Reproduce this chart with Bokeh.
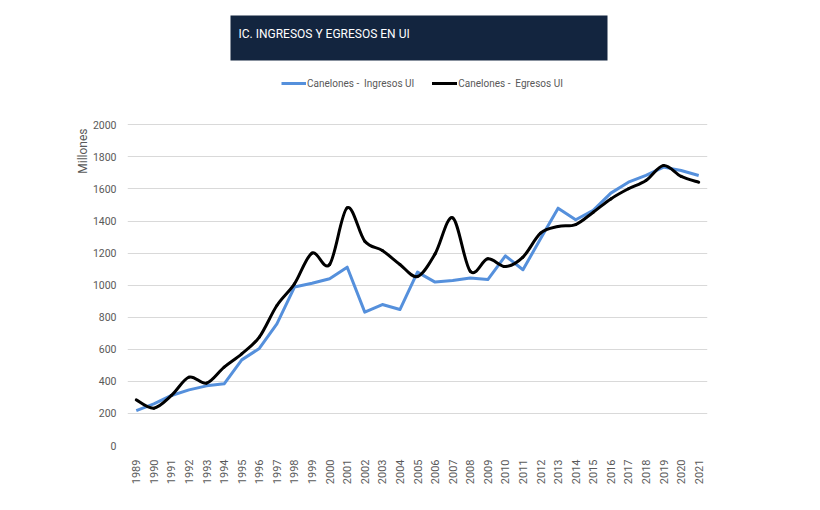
import math
from bokeh.plotting import figure
from bokeh.models import Label, BoxAnnotation, Legend, LegendItem, FixedTicker, Range1d, Title
from bokeh.embed import file_html
from bokeh.resources import INLINE

# ---------------- data ----------------
years = list(range(1989, 2022))
ingresos = [218, 260, 312, 347, 372, 385, 534, 605, 759, 988, 1012, 1040, 1112, 832, 879, 848, 1081,
            1019, 1029, 1044, 1035, 1183, 1096, 1289, 1480, 1408, 1466, 1574, 1642, 1684, 1736, 1715, 1684]
egresos = [285, 233, 312, 426, 389, 489, 572, 676, 873, 1008, 1200, 1129, 1482, 1274, 1216, 1129, 1054,
           1195, 1420, 1087, 1164, 1116, 1175, 1324, 1366, 1378, 1455, 1538, 1601, 1653, 1746, 1678, 1642]
series_names = ["Canelones -  Ingresos UI", "Canelones -  Egresos UI"]
y_ticks = [0, 200, 400, 600, 800, 1000, 1200, 1400, 1600, 1800, 2000]
title_text = "IC. INGRESOS Y EGRESOS EN UI"
y_label = "Millones"

# ---------------- layout (pixels) ----------------
W, H = 812, 502
FL, FW = 127, 580          # frame left / width
FB = 445                   # frame bottom (value 0)
TOP_GRID_PX = 124.3        # pixel row of the 2000 gridline
X0, X1 = 1988.5, 2021.5
Y0 = 0
Y1 = y_ticks[-1] * FB / (FB - TOP_GRID_PX)   # frame extends up to the canvas top
FONT = "Roboto"
GREY = "#595959"

def xd(px):
    return X0 + (px - FL) * (X1 - X0) / FW

def yd(py):
    return Y0 + (FB - py) * (Y1 - Y0) / FB

p = figure(width=W, height=H, x_range=Range1d(X0, X1), y_range=Range1d(Y0, Y1),
           output_backend="svg", toolbar_location=None,
           min_border_left=FL, min_border_top=0,
           min_border_right=W - FL - FW, min_border_bottom=H - FB)
p.outline_line_color = None
p.background_fill_color = "white"
p.border_fill_color = "white"
p.xgrid.grid_line_color = None
p.ygrid.grid_line_color = "#d9d9d9"
p.ygrid.grid_line_width = 1.2
p.ygrid.ticker = FixedTicker(ticks=y_ticks)
p.yaxis.ticker = FixedTicker(ticks=y_ticks)
p.xaxis.ticker = FixedTicker(ticks=years)

for ax in p.axis:
    ax.axis_line_color = None
    ax.major_tick_line_color = None
    ax.minor_tick_line_color = None
    ax.major_label_text_font = FONT
    ax.major_label_text_color = GREY
p.yaxis.major_label_text_font_size = "10.5px"
p.xaxis.major_label_text_font_size = "11px"
p.yaxis.major_label_standoff = 5
p.xaxis.major_label_standoff = 8
p.xaxis.major_label_orientation = math.pi / 2

# blue straight line
r_in = p.line(years, ingresos, line_color="#5590dc", line_width=3, line_join="round")

# black smoothed line (Catmull-Rom -> cubic Bezier through the data points)
n = len(years)
bx0, by0, bx1, by1, bcx0, bcy0, bcx1, bcy1 = [], [], [], [], [], [], [], []
for i in range(n - 1):
    im = i - 1 if i > 0 else i
    ip2 = i + 2 if i + 2 < n else i + 1
    bx0.append(years[i]); by0.append(egresos[i])
    bx1.append(years[i + 1]); by1.append(egresos[i + 1])
    bcx0.append(years[i] + (years[i + 1] - years[im]) / 6)
    bcy0.append(egresos[i] + (egresos[i + 1] - egresos[im]) / 6)
    bcx1.append(years[i + 1] - (years[ip2] - years[i]) / 6)
    bcy1.append(egresos[i + 1] - (egresos[ip2] - egresos[i]) / 6)
r_eg = p.bezier(x0=bx0, y0=by0, x1=bx1, y1=by1, cx0=bcx0, cy0=bcy0, cx1=bcx1, cy1=bcy1,
                line_color="black", line_width=3, line_cap="round")

# title box
p.add_layout(BoxAnnotation(left=xd(230), right=xd(607), top=yd(15), bottom=yd(60),
                           fill_color="#13253f", fill_alpha=1.0, line_color=None))
p.add_layout(Label(x=xd(238), y=yd(33), text=title_text, text_color="white",
                   text_font=FONT, text_font_size="12px", text_baseline="middle",
                   text_align="left"))

# y axis title (left side panel, aligned to the top)
p.add_layout(Title(text=y_label, align="right", offset=128, standoff=0, text_font=FONT,
                   text_font_size="12px", text_font_style="normal", text_color=GREY), "left")

# legend
legend = Legend(items=[LegendItem(label=series_names[0], renderers=[r_in]),
                       LegendItem(label=series_names[1], renderers=[r_eg])],
                orientation="horizontal", location=(281 - FL, FB - 89),
                glyph_width=25, glyph_height=12, label_height=12, label_standoff=1, spacing=18,
                padding=0, margin=0, border_line_color=None, background_fill_alpha=0,
                label_text_font=FONT, label_text_font_size="10px", label_text_color=GREY)
p.add_layout(legend, "center")

open("out.html", "w").write(file_html(p, INLINE))
